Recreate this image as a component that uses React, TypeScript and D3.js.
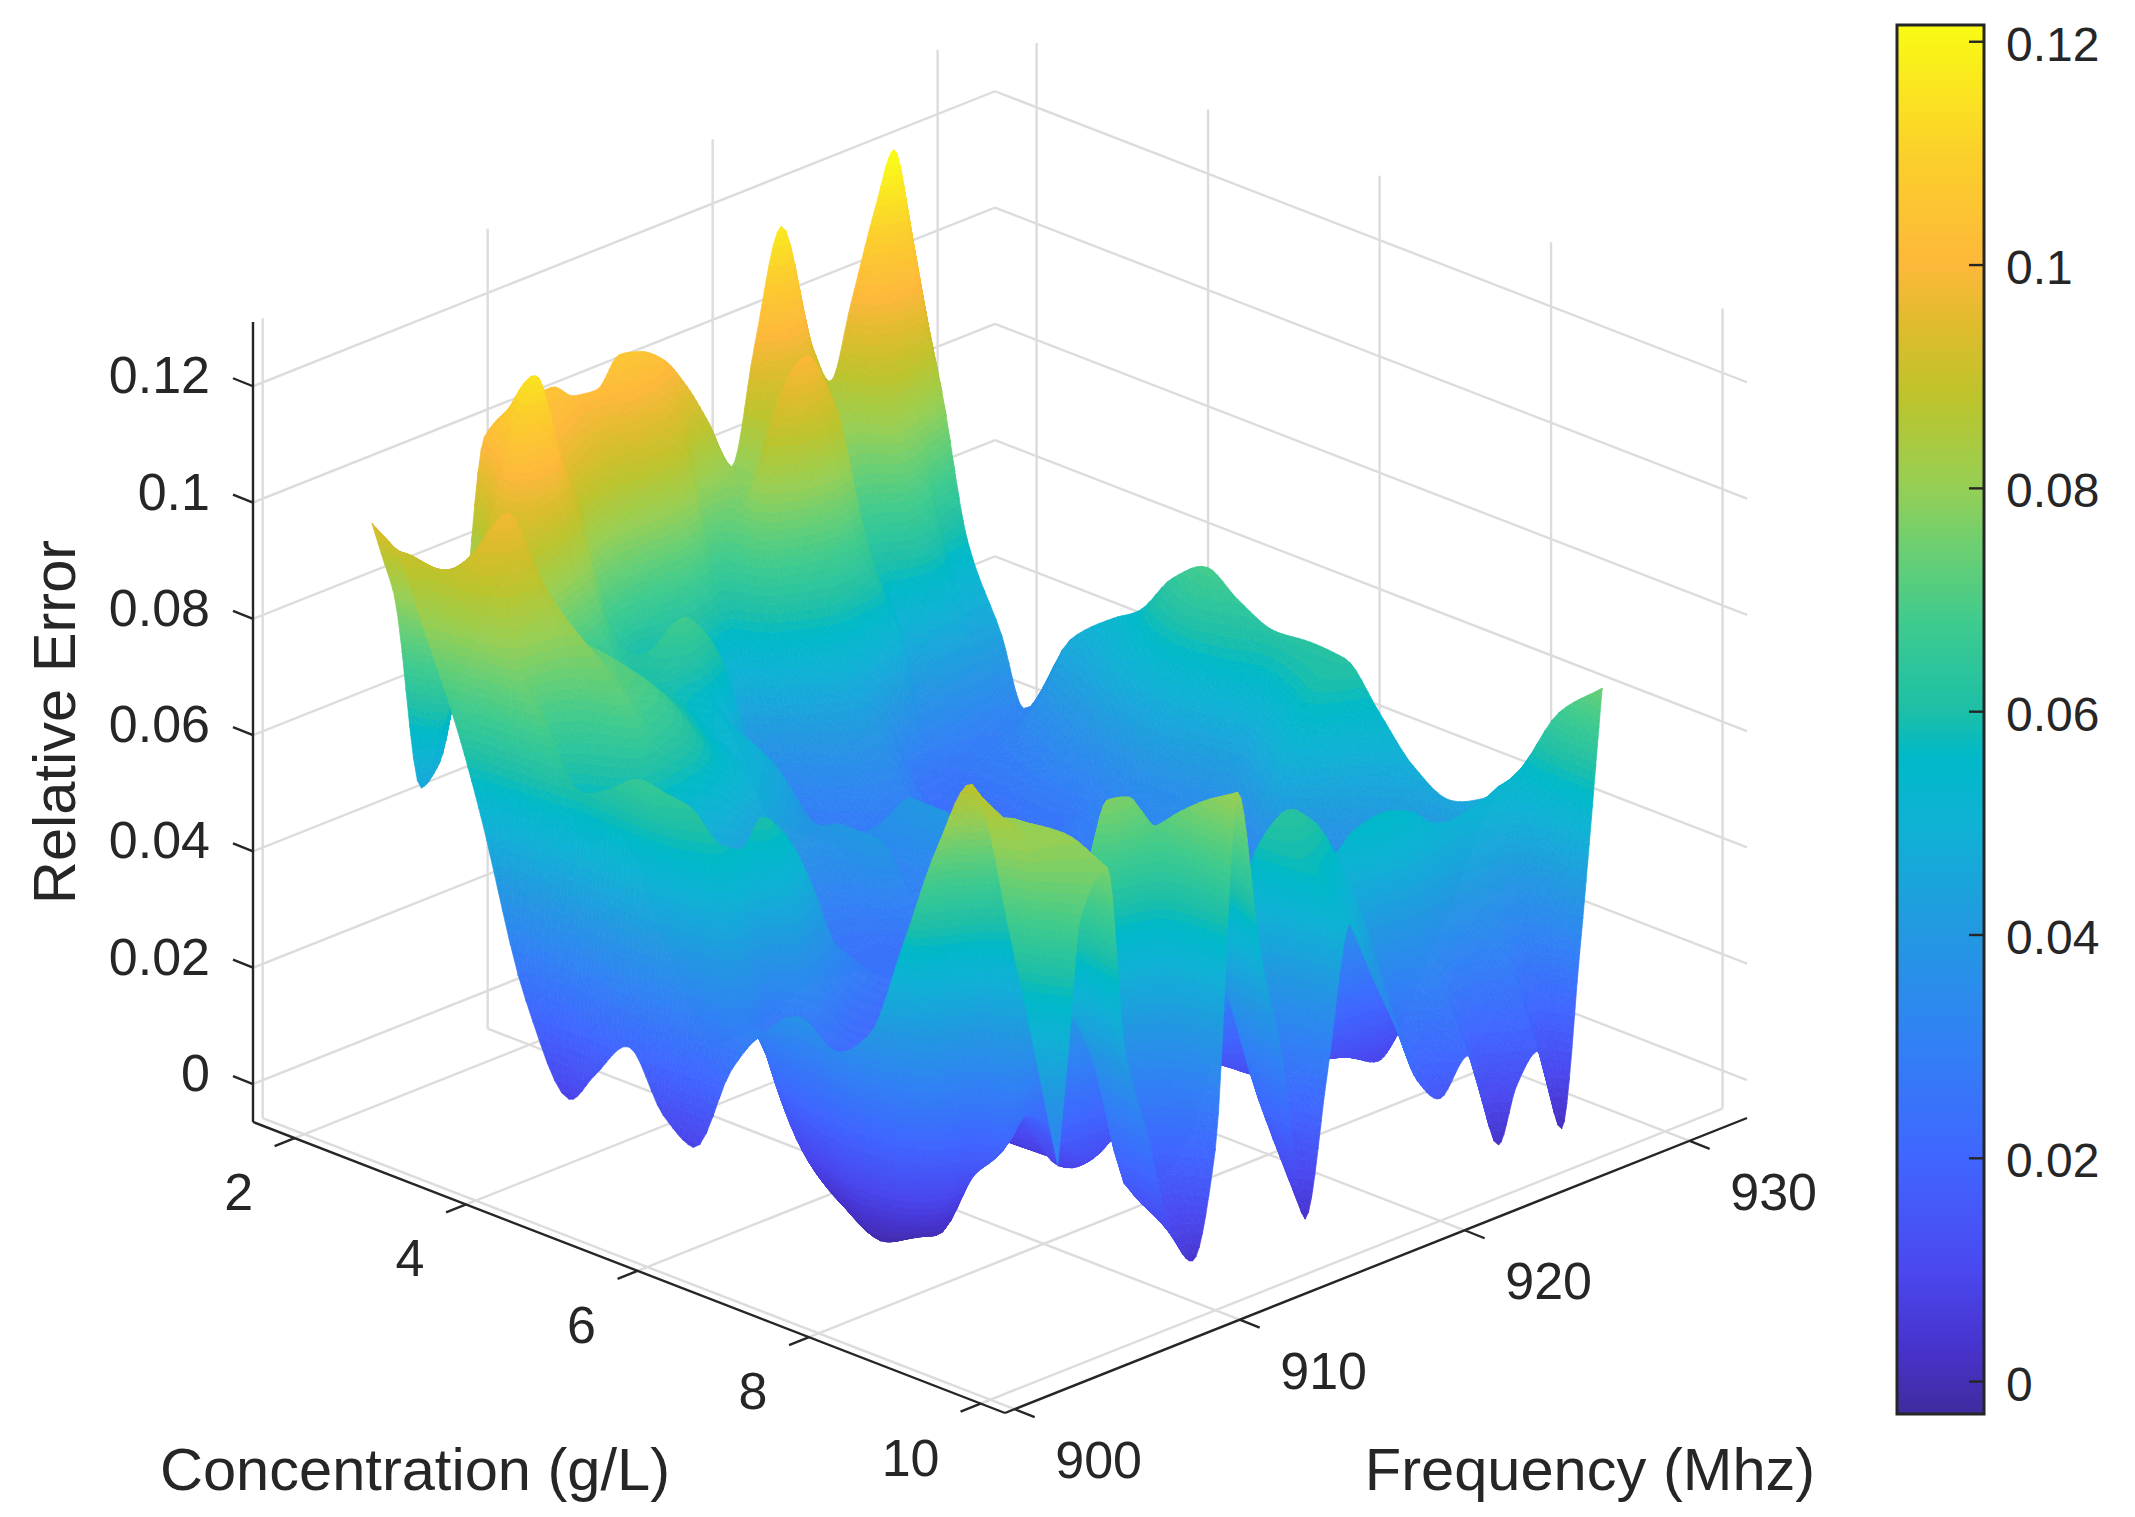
import React, { useEffect, useRef } from "react";
import * as d3 from "d3";

// grid of the surface
const freqNodes = [903, 903.5, 904, 905.2, 906, 907, 908, 909, 910, 911, 912, 913, 914, 915, 916, 917, 918, 919, 920, 921.2, 922.6, 923.4, 924.3, 925.4, 926.2, 927.2];
const concNodes = [2, 2.3, 2.6, 3, 3.25, 3.8, 4.3, 4.6, 5, 5.4, 5.75, 6.2, 6.6, 7, 7.4, 7.8, 8.2, 8.6, 9, 9.5, 10];

const errC20 = [.094, .087, .08, .045, .048, .068, .101, .104, .105, .105, .102, .1015, .106, .105, .102, .096, .088, .079, .098, .117, .094, .087, .099, .114, .1225, .1];
const errC23 = [.0905, .0895, .083, .06, .07, .09, .108, .104, .1, .095, .09, .087, .09, .09, .085, .07, .075, .08, .088, .09, .08, .078, .09, .095, .095, .081];
const errC26 = [.0795, .0887, .087, .075, .08, .105, .115, .1006, .0876, .07, .06, .055, .0575, .0594, .052, .05, .08, .095, .1, .09, .062, .065, .075, .07, .06, .057];
const errC30 = [.064, .0875, .092, .098, .09, .08, .07, .062, .06, .06, .064, .068, .064, .055, .04, .03, .04, .055, .062, .06, .052, .04, .042, .043, .042, .043];
const errC32 = [.052, .08, .088, .09, .085, .076, .072, .068, .064, .06, .058, .056, .05, .04, .03, .028, .034, .04, .044, .038, .026, .026, .028, .029, .03, .032];
const errC38 = [.022, .072, .065, .07, .076, .072, .07, .066, .06, .056, .052, .05, .046, .036, .03, .028, .028, .03, .03, .026, .022, .024, .028, .032, .038, .047];
const errC43 = [.008, .06, .05, .06, .068, .064, .062, .058, .054, .05, .046, .042, .038, .034, .034, .03, .028, .028, .028, .026, .024, .026, .03, .036, .044, .0535];
const errC46 = [.0138, .062, .06, .045, .05, .052, .05, .048, .044, .04, .037, .036, .04, .03, .036, .04, .03, .026, .026, .026, .025, .026, .03, .04, .05, .0565];
const errC50 = [.021, .066, .064, .03, .035, .038, .036, .032, .03, .028, .028, .03, .04, .032, .035, .04, .03, .026, .026, .026, .028, .03, .033, .045, .056, .0645];
const errC54 = [.0115, .06, .0635, .02, .02, .02, .022, .024, .024, .024, .025, .025, .028, .028, .03, .03, .028, .026, .026, .027, .03, .032, .036, .048, .06, .0685];
const errC57 = [.008, .045, .058, .056, .06, .056, .047, .035, .03, .026, .024, .024, .024, .025, .026, .026, .026, .026, .027, .028, .03, .034, .036, .045, .058, .065];
const errC62 = [.024, .032, .03, .018, .036, .032, .025, .022, .02, .018, .018, .02, .02, .021, .022, .022, .022, .023, .024, .025, .027, .03, .034, .042, .053, .062];
const errC66 = [.033, .03, .02, .006, .012, .015, .016, .016, .015, .012, .013, .016, .018, .019, .02, .02, .02, .021, .022, .023, .025, .027, .036, .05, .057, .0625];
const errC70 = [.0375, .028, .014, .001, .004, .008, .01, .012, .011, .009, .008, .012, .02, .022, .022, .02, .02, .02, .02, .022, .024, .03, .046, .056, .06, .062];
const errC74 = [.034, .022, .008, -.002, -.001, .005, .01, .011, .009, .006, .01, .02, .024, .022, .02, .018, .016, .016, .016, .018, .02, .025, .036, .045, .05, .055];
const errC78 = [.039, .024, .01, .002, 0, .012, .02, .018, .012, .006, .012, .018, .014, .014, .014, .014, .012, .012, .012, .014, .015, .018, .025, .032, .04, .048];
const errC82 = [.057, .04, .025, .012, .012, .02, .022, .016, .008, .01, .01, .006, .006, .01, .014, .016, .012, .01, .01, .01, .01, .012, .018, .025, .034, .0446];
const errC86 = [.076, .075, .07, .05, .02, .024, .02, .014, .012, .014, .012, .004, .008, .018, .03, .035, .022, .014, .014, .012, .009, .012, .02, .028, .036, .047];
const errC90 = [.089, .085, .082, .079, .05, .045, .062, .077, .076, .067, .062, .05, .04, .05, .06, .063, .06, .052, .055, .056, .054, .051, .05, .051, .052, .0535];
const errC95 = [.062, .08, .08, .08, .055, .035, .015, .025, .045, .076, .066, .04, .02, .04, .058, .055, .05, .035, .03, .035, .03, .03, .034, .03, .04, .067];
const errC100 = [.029, .0493, .07, .077, .044, .028, .0105, .0035, .021, .081, .052, .032, .003, .027, .051, .04, .03, .019, .0145, .02, .0025, .0115, .016, .001, .03, .074];
const errorRows = [errC20, errC23, errC26, errC30, errC32, errC38, errC43, errC46, errC50, errC54, errC57, errC62, errC66, errC70, errC74, errC78, errC82, errC86, errC90, errC95, errC100];

const freqTicks = [900, 910, 920, 930];
const concTicks = [2, 4, 6, 8, 10];
const errorTicks = [0, 0.02, 0.04, 0.06, 0.08, 0.1, 0.12];

// colour bar stops, low to high
const colorVals = [-0.0029, 0, 0.003, 0.01, 0.02, 0.03, 0.04, 0.05, 0.056, 0.06, 0.068, 0.075, 0.08, 0.088, 0.094, 0.1, 0.11, 0.1215];
const colorHex = ["#3f2a9e", "#4430b5", "#4733cc", "#4a48ef", "#4066ff", "#3280f5", "#2398e2", "#0fb2d4", "#00b9c8", "#1cbfa8", "#3fcb8e", "#6ecf70", "#95cf55", "#bcc42c", "#dcbc2c", "#fdb83a", "#fbd02a", "#f9fb15"];

const W = 2135;
const H = 1517;
const ink = "#262626";
const gridColor = "#dcdcdc";

const color = d3.scaleLinear<string>().domain(colorVals).range(colorHex).interpolate(d3.interpolateRgb).clamp(true);

// orthographic axes: every data axis is one straight screen vector
const ox = 253;
const oy = 1122;
const fDomain = [899.57, 932.55];
const cDomain = [1.515, 10.285];
const zDomain = [-0.00653, 0.13105];
const fx = d3.scaleLinear().domain(fDomain).range([0, 742]);
const fy = d3.scaleLinear().domain(fDomain).range([0, -295]);
const cx = d3.scaleLinear().domain(cDomain).range([0, 752]);
const cy = d3.scaleLinear().domain(cDomain).range([0, 291]);
const zy = d3.scaleLinear().domain(zDomain).range([0, -800]);

const proj = (f: number, c: number, z: number): [number, number] => [ox + fx(f) + cx(c), oy + fy(f) + cy(c) + zy(z)];

// monotone cubic through the read values, only for smooth drawing of the sheet
function tangents(xs: number[], ys: number[]) {
  const n = xs.length;
  const s = d3.range(n - 1).map((i) => (ys[i + 1] - ys[i]) / (xs[i + 1] - xs[i]));
  const m = new Array(n).fill(0);
  m[0] = s[0];
  m[n - 1] = s[n - 2];
  for (let i = 1; i < n - 1; i++) {
    if (s[i - 1] * s[i] > 0) {
      const w1 = 2 * (xs[i + 1] - xs[i]) + (xs[i] - xs[i - 1]);
      const w2 = (xs[i + 1] - xs[i]) + 2 * (xs[i] - xs[i - 1]);
      m[i] = (w1 + w2) / (w1 / s[i - 1] + w2 / s[i]);
    }
  }
  return m;
}

function resample(xs: number[], ys: number[], sub: number) {
  const m = tangents(xs, ys);
  const out: number[] = [];
  for (let i = 0; i < xs.length - 1; i++) {
    const h = xs[i + 1] - xs[i];
    for (let k = 0; k < sub; k++) {
      const t = k / sub;
      const t2 = t * t;
      const t3 = t2 * t;
      out.push((2 * t3 - 3 * t2 + 1) * ys[i] + (t3 - 2 * t2 + t) * h * m[i] + (-2 * t3 + 3 * t2) * ys[i + 1] + (t3 - t2) * h * m[i + 1]);
    }
  }
  out.push(ys[ys.length - 1]);
  return out;
}

const step = 0.0015;
type P = [number, number, number];

function clipLevel(pts: P[], level: number, keepAbove: boolean) {
  const out: P[] = [];
  for (let i = 0; i < pts.length; i++) {
    const a = pts[i];
    const b = pts[(i + 1) % pts.length];
    const ina = keepAbove ? a[2] >= level : a[2] <= level;
    const inb = keepAbove ? b[2] >= level : b[2] <= level;
    if (ina) out.push(a);
    if (ina !== inb) {
      const t = (level - a[2]) / (b[2] - a[2]);
      out.push([a[0] + t * (b[0] - a[0]), a[1] + t * (b[1] - a[1]), level]);
    }
  }
  return out;
}

const polyPath = (pts: P[]) => "M" + pts.map((p) => p[0].toFixed(1) + "," + p[1].toFixed(1)).join("L") + "Z";

const subF = 7;
const subC = 6;

function buildSheet() {
  const fine = resample(freqNodes, freqNodes, subF);
  const fineC = resample(concNodes, concNodes, subC);
  const rowsFine = errorRows.map((r) => resample(freqNodes, r, subF));
  const cols = fine.map((_, j) => resample(concNodes, rowsFine.map((r) => r[j]), subC));
  const pieces: { band: number; d: string }[] = [];
  const add = (tri: P[]) => {
    const zs = tri.map((p) => p[2]);
    const lo = Math.floor((d3.min(zs) as number) / step);
    const hi = Math.floor((d3.max(zs) as number) / step);
    for (let b = lo; b <= hi; b++) {
      let poly = tri;
      if (lo !== hi) {
        poly = clipLevel(poly, b * step, true);
        if (poly.length > 2) poly = clipLevel(poly, (b + 1) * step, false);
      }
      if (poly.length < 3) continue;
      const d = polyPath(poly);
      const last = pieces[pieces.length - 1];
      if (last && last.band === b) last.d += d;
      else pieces.push({ band: b, d });
    }
  };
  // far cells first: high frequency, low concentration
  for (let j = fine.length - 2; j >= 0; j--) {
    for (let i = 0; i < fineC.length - 1; i++) {
      const v = (jj: number, ii: number): P => {
        const z = cols[jj][ii];
        const [x, y] = proj(fine[jj], fineC[ii], z);
        return [x, y, z];
      };
      const a = v(j + 1, i);
      const b = v(j + 1, i + 1);
      const c = v(j, i + 1);
      const e = v(j, i);
      add([a, b, e]);
      add([b, c, e]);
    }
  }
  return pieces;
}

const font = "'Liberation Sans', Arial, sans-serif";
const barX0 = 1897;
const barX1 = 1984;
const barY = d3.scaleLinear().domain([-0.0029, 0.1215]).range([1414, 25]);

export default function App() {
  const sheet = useRef<SVGGElement>(null);

  useEffect(() => {
    const pieces = buildSheet();
    d3.select(sheet.current)
      .selectAll("path")
      .data(pieces)
      .join("path")
      .attr("d", (d) => d.d)
      .attr("fill", (d) => color((d.band + 0.5) * step))
      .attr("stroke", (d) => color((d.band + 0.5) * step))
      .attr("stroke-width", 0.7)
      .attr("stroke-linejoin", "round");
  }, []);

  const [fMin, fMax] = fDomain;
  const [cMin, cMax] = cDomain;
  const [zMin, zMax] = zDomain;
  const line = (a: [number, number], b: [number, number], stroke: string, sw: number, key: string) => (
    <line key={key} x1={a[0]} y1={a[1]} x2={b[0]} y2={b[1]} stroke={stroke} strokeWidth={sw} />
  );

  return (
    <svg width={W} height={H} style={{ position: "absolute", left: 0, top: 0, background: "#fff" }} fontFamily={font} fill={ink}>
      <defs>
        <linearGradient id="bar" x1="0" y1="1" x2="0" y2="0">
          {colorVals.map((v, i) => (
            <stop key={v} offset={(v - colorVals[0]) / (colorVals[colorVals.length - 1] - colorVals[0])} stopColor={colorHex[i]} />
          ))}
        </linearGradient>
      </defs>

      <g>
        {freqTicks.map((f) => line(proj(f, cMin, zMin), proj(f, cMin, zMax), gridColor, 2.4, "fw" + f))}
        {freqTicks.map((f) => line(proj(f, cMin, zMin), proj(f, cMax, zMin), gridColor, 2.4, "ff" + f))}
        {concTicks.map((c) => line(proj(fMax, c, zMin), proj(fMax, c, zMax), gridColor, 2.4, "cw" + c))}
        {concTicks.map((c) => line(proj(fMin, c, zMin), proj(fMax, c, zMin), gridColor, 2.4, "cf" + c))}
        {errorTicks.map((z) => line(proj(fMin, cMin, z), proj(fMax, cMin, z), gridColor, 2.4, "zl" + z))}
        {errorTicks.map((z) => line(proj(fMax, cMin, z), proj(fMax, cMax, z), gridColor, 2.4, "zr" + z))}
      </g>

      <g ref={sheet} />

      <g>
        {line(proj(fMin, cMin, zMin), proj(fMin, cMin, zMax), ink, 2.4, "az")}
        {line(proj(fMin, cMin, zMin), proj(fMin, cMax, zMin), ink, 2.4, "ac")}
        {line(proj(fMin, cMax, zMin), proj(fMax, cMax, zMin), ink, 2.4, "af")}
        {errorTicks.map((z) => {
          const p = proj(fMin, cMin, z);
          return (
            <g key={"tz" + z}>
              {line(p, [p[0] - 20, p[1] - 8], ink, 2.4, "t")}
              <text x={210} y={p[1] + 7} textAnchor="end" fontSize={52}>{z}</text>
            </g>
          );
        })}
        {concTicks.map((c) => {
          const p = proj(fMin, c, zMin);
          return (
            <g key={"tc" + c}>
              {line(p, [p[0] - 20, p[1] + 8], ink, 2.4, "t")}
              <text x={p[0] - (c === 10 ? 70 : 56)} y={p[1] + 72} textAnchor="middle" fontSize={52}>{c}</text>
            </g>
          );
        })}
        {freqTicks.map((f) => {
          const p = proj(f, cMax, zMin);
          return (
            <g key={"tf" + f}>
              {line(p, [p[0] + 20, p[1] + 8], ink, 2.4, "t")}
              <text x={p[0] + 84} y={p[1] + 69} textAnchor="middle" fontSize={52}>{f}</text>
            </g>
          );
        })}
        <text x={415} y={1490} textAnchor="middle" fontSize={59.6}>Concentration (g/L)</text>
        <text x={1590} y={1490} textAnchor="middle" fontSize={59.6}>Frequency (Mhz)</text>
        <text transform="translate(75,722) rotate(-90)" textAnchor="middle" fontSize={59.6}>Relative Error</text>
      </g>

      <g>
        <rect x={barX0} y={25} width={barX1 - barX0} height={1389} fill="url(#bar)" stroke={ink} strokeWidth={3} />
        {errorTicks.map((z) => (
          <g key={"bar" + z}>
            <line x1={barX1 - 15} x2={barX1} y1={barY(z)} y2={barY(z)} stroke={ink} strokeWidth={2.4} />
            <text x={2006} y={barY(z) + 19} fontSize={48}>{z}</text>
          </g>
        ))}
      </g>
    </svg>
  );
}
